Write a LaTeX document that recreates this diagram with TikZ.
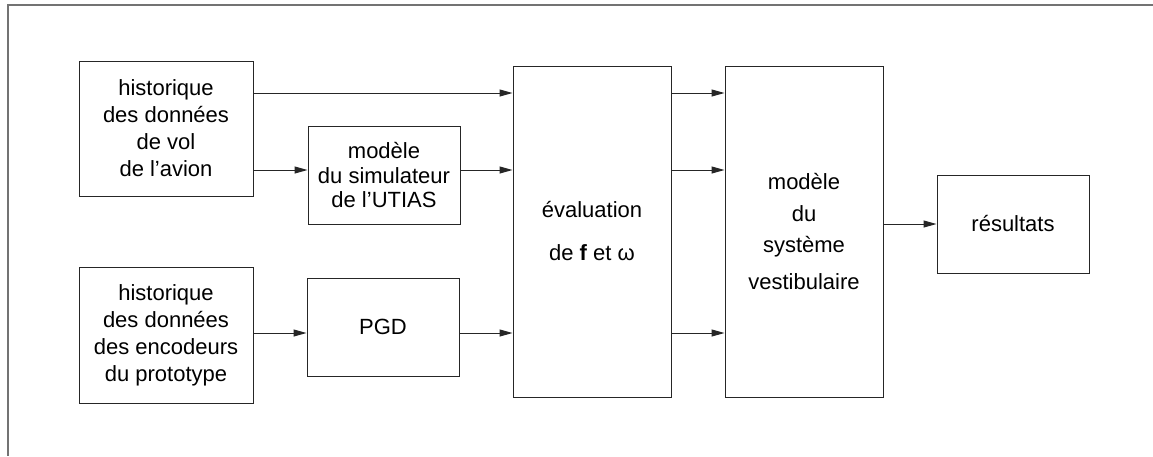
\documentclass[tikz,border=0pt]{standalone}
\usepackage{fontspec}
\setmainfont{Liberation Sans}
\usetikzlibrary{arrows.meta}
\begin{document}
\begin{tikzpicture}[x=1pt,y=-1pt,
  blk/.style={draw=black!85,line width=1pt,rectangle,inner sep=0pt,align=center,
    font=\fontsize{22}{27}\selectfont},
  arr/.style={draw=black!85,line width=1pt,-{Triangle[length=13pt,width=7pt]}},
  frm/.style={draw=black!55,line width=1.2pt}]
\useasboundingbox (0,0) rectangle (1153,456);
\coordinate (fTL) at (8,5);
\coordinate (fTR) at (1153,5);
\coordinate (fBL) at (8,456);
\draw[frm] (fTR) -- (fTL) -- (fBL);

\node[blk,minimum width=174pt,minimum height=135pt] (A) at (166,128.5)
  {historique\\ des données\\ de vol\\ de l'avion};
\node[blk,minimum width=152pt,minimum height=98pt,font=\fontsize{22}{24.5}\selectfont] (B) at (384,175)
  {modèle\\ du simulateur\\ de l'UTIAS};
\node[blk,minimum width=174pt,minimum height=136pt] (C) at (166,335)
  {historique\\ des données\\ des encodeurs\\ du prototype};
\node[blk,minimum width=152pt,minimum height=98pt] (P) at (383,327) {PGD};
\node[blk,minimum width=158pt,minimum height=331pt] (E) at (592,231.5)
  {évaluation\\[16pt] de \textbf{f} et ω};
\node[blk,minimum width=158pt,minimum height=331pt] (M) at (804,231.5)
  {modèle\\[5pt] du\hspace{0.6em}\\[4pt] système\\[10pt] vestibulaire};
\node[blk,minimum width=152pt,minimum height=98pt] (R) at (1013,224) {résultats};

\coordinate (y1) at (0,93);
\coordinate (y2) at (0,170);
\coordinate (y3) at (0,333);
\coordinate (y4) at (0,224);

\draw[arr] (A.east |- y1) -- (E.west |- y1);
\draw[arr] (A.east |- y2) -- (B.west |- y2);
\draw[arr] (B.east |- y2) -- (E.west |- y2);
\draw[arr] (C.east |- y3) -- (P.west |- y3);
\draw[arr] (P.east |- y3) -- (E.west |- y3);
\draw[arr] (E.east |- y1) -- (M.west |- y1);
\draw[arr] (E.east |- y2) -- (M.west |- y2);
\draw[arr] (E.east |- y3) -- (M.west |- y3);
\draw[arr] (M.east |- y4) -- (R.west |- y4);
\end{tikzpicture}
\end{document}
